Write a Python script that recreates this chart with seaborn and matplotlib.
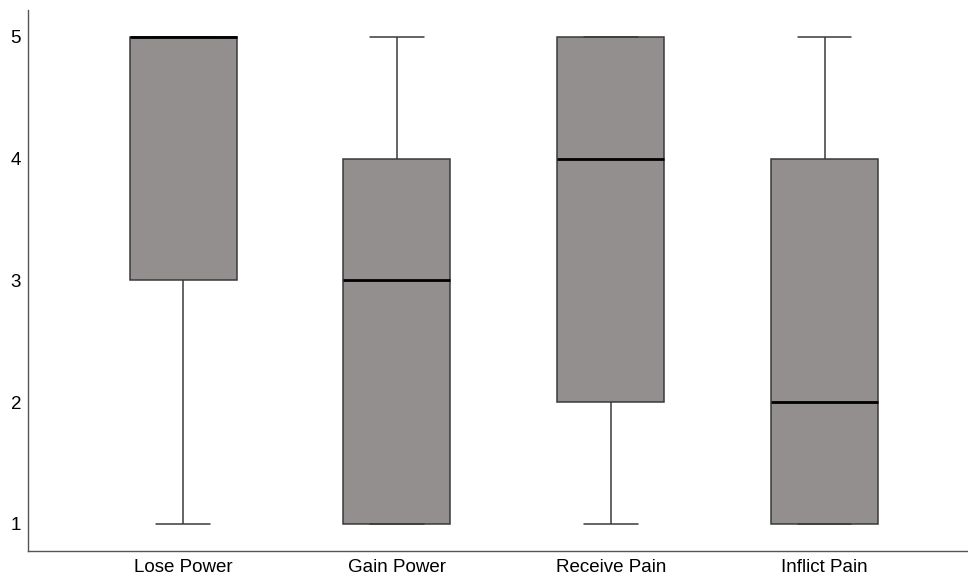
import matplotlib
matplotlib.use("Agg")
import matplotlib.pyplot as plt
import seaborn as sns
import pandas as pd

categories = ["Lose Power", "Gain Power", "Receive Pain", "Inflict Pain"]
lose_power = [1, 3, 3, 4, 5, 5, 5, 5, 5]
gain_power = [1, 1, 1, 2, 3, 4, 4, 5, 5]
receive_pain = [1, 2, 2, 3, 4, 5, 5, 5, 5]
inflict_pain = [1, 1, 1, 2, 2, 3, 4, 4, 5]
yticks = [1, 2, 3, 4, 5]

series = [lose_power, gain_power, receive_pain, inflict_pain]
df = pd.DataFrame({
    "cat": [c for c, s in zip(categories, series) for _ in s],
    "val": [v for s in series for v in s],
})

sns.set_style("white")
plt.rcParams["font.family"] = ["Liberation Sans", "DejaVu Sans"]

fig = plt.figure(figsize=(9.68, 5.79), dpi=100)
ax = fig.add_axes([0.0289, 0.0484, 0.9711, 0.9343])

sns.boxplot(data=df, x="cat", y="val", order=categories, ax=ax,
            width=0.5, color="#938f8e", saturation=1, whis=1.5,
            linecolor="#3a3a3a", linewidth=1.1,
            medianprops=dict(color="black", linewidth=2.0),
            boxprops=dict(facecolor="#938f8e", edgecolor="#3a3a3a"),
            showfliers=False)

ax.set_xlim(-0.725, 3.67)
ax.set_ylim(0.778, 5.22)
ax.set_yticks(yticks)
ax.set_yticklabels([str(t) for t in yticks])
ax.set_xlabel("")
ax.set_ylabel("")
ax.tick_params(axis="both", length=0, labelsize=13.5, colors="black", pad=6)
ax.tick_params(axis="y", pad=5)
for s in ["top", "right"]:
    ax.spines[s].set_visible(False)
for s in ["left", "bottom"]:
    ax.spines[s].set_color("#555555")
    ax.spines[s].set_linewidth(1.0)

fig.savefig("out.png", dpi=100)
